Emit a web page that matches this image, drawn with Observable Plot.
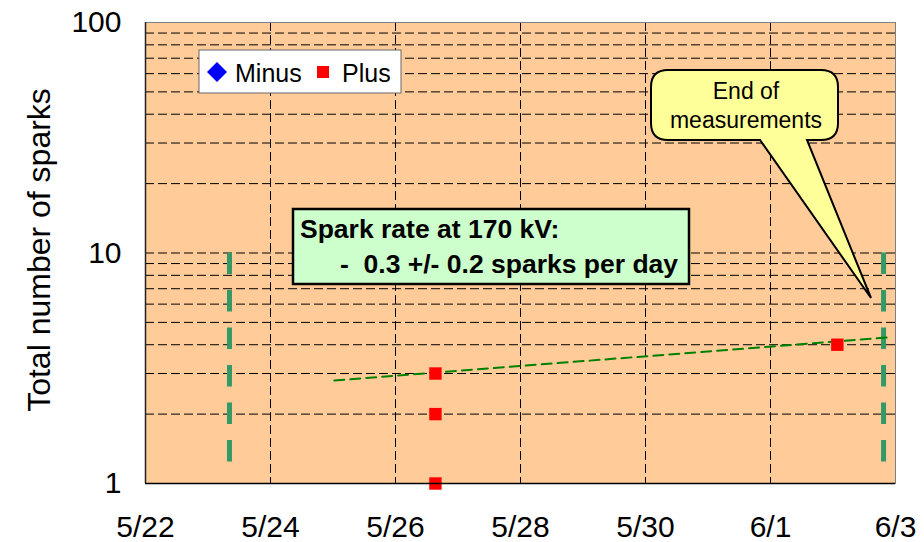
<!DOCTYPE html>
<html><head><meta charset="utf-8">
<script src="https://cdn.jsdelivr.net/npm/d3@7"></script>
<script src="https://cdn.jsdelivr.net/npm/@observablehq/plot@0.6"></script>
<style>
body{margin:0;background:#fff;}
svg{display:block;font-family:"Liberation Sans",Arial,sans-serif;}
</style>
</head><body><div id="chart"></div>
<script>
// ---- data ----
const xTickDates = ["2008-05-22","2008-05-24","2008-05-26","2008-05-28","2008-05-30","2008-06-01","2008-06-03"];
const xTickLabels = ["5/22","5/24","5/26","5/28","5/30","6/1","6/3"];
const yTicks = [1, 10, 100];
const yGrid = [2,3,4,5,6,7,8,9,10,20,30,40,50,60,70,80,90];
const xGrid = ["2008-05-24","2008-05-26","2008-05-28","2008-05-30","2008-06-01"];

const plusTimes = ["2008-05-26T15:20Z","2008-05-26T15:20Z","2008-05-26T15:20Z","2008-06-02T01:40Z"];
const plusCounts = [1, 2, 3, 4];
const minusTimes = [];
const minusCounts = [];

const trendTimes = ["2008-05-25T00:30Z","2008-06-02T21:00Z"];
const trendCounts = [2.8, 4.3];

const markerTimes = ["2008-05-23T08:15Z","2008-06-02T19:25Z"];
const markerTop = [10, 10];
const markerBottom = [1.23, 1.23];

// ---- build tables ----
const P = s => new Date(s.length === 10 ? s + "T00:00Z" : s);
const plus = plusTimes.map((t,i)=>({t:P(t), n:plusCounts[i]}));
const minus = minusTimes.map((t,i)=>({t:P(t), n:minusCounts[i]}));
const trend = trendTimes.map((t,i)=>({t:P(t), n:trendCounts[i]}));
const markers = markerTimes.map((t,i)=>({t:P(t), top:markerTop[i], bottom:markerBottom[i]}));
const labelMap = new Map(xTickDates.map((d,i)=>[+P(d), xTickLabels[i]]));

const chart = Plot.plot({
  width: 924, height: 542,
  marginLeft: 145, marginRight: 29, marginTop: 22, marginBottom: 59,
  style: {fontFamily: '"Liberation Sans", Arial, sans-serif', color: "#000", background: "transparent", overflow: "visible"},
  x: {type: "utc", domain: [P(xTickDates[0]), P(xTickDates[xTickDates.length-1])]},
  y: {type: "log", domain: [1, 100]},
  marks: [
    Plot.frame({fill: "#FFCC99", stroke: null}),
    Plot.ruleY(yGrid, {stroke: "#000", strokeWidth: 1, strokeDasharray: "9,4"}),
    Plot.ruleX(xGrid.map(P), {stroke: "#000", strokeWidth: 1, strokeDasharray: "9,4"}),
    Plot.ruleX(markers, {x: "t", y1: "top", y2: "bottom", stroke: "#339966", strokeWidth: 5, strokeDasharray: "21.5,16"}),
    Plot.line(trend, {x: "t", y: "n", stroke: "#008000", strokeWidth: 2, strokeDasharray: "10,6"}),
    Plot.dot(minus, {x: "t", y: "n", symbol: "diamond", fill: "blue", r: 7}),
    Plot.dot(plus, {x: "t", y: "n", symbol: "square", fill: "#FF0000", r: 7}),
    Plot.axisX({ticks: xTickDates.map(P), tickFormat: d => labelMap.get(+d), tickSize: 0, tickPadding: 32, fontSize: 30, label: null}),
    Plot.axisY({ticks: yTicks, tickFormat: d => String(d), tickSize: 0, tickPadding: 24, fontSize: 30, label: null}),
    Plot.frame({stroke: "#808080", strokeWidth: 1}),
    Plot.ruleX([P(xTickDates[0])], {stroke: "#222", strokeWidth: 1.5}),
    Plot.ruleY([1], {stroke: "#000", strokeWidth: 1.5})
  ]
});
document.getElementById("chart").appendChild(chart);

// ---- annotations ----
const svg = d3.select(chart);
const g = svg.append("g").attr("text-anchor", "start").attr("fill", "#000");

// y-axis title
g.append("text").attr("transform", "translate(50,250) rotate(-90)")
  .attr("text-anchor", "middle").attr("font-size", 32)
  .text("Total number of sparks");

// legend
g.append("rect").attr("x", 199).attr("y", 50).attr("width", 202).attr("height", 43)
  .attr("fill", "#fff").attr("stroke", "#666").attr("stroke-width", 1);
g.append("path").attr("d", "M217,62 L227,72 L217,82 L207,72 Z").attr("fill", "blue");
g.append("text").attr("x", 235).attr("y", 82).attr("font-size", 25).text("Minus");
g.append("rect").attr("x", 317).attr("y", 66).attr("width", 12).attr("height", 12).attr("fill", "#FF0000");
g.append("text").attr("x", 342).attr("y", 82).attr("font-size", 25).text("Plus");

// spark rate box
g.append("rect").attr("x", 293).attr("y", 209).attr("width", 396).attr("height", 75)
  .attr("fill", "#CCFFCC").attr("stroke", "#000").attr("stroke-width", 2.5);
g.append("text").attr("x", 300).attr("y", 238).attr("font-size", 26.5).attr("font-weight", "bold")
  .text("Spark rate at 170 kV:");
g.append("text").attr("x", 340).attr("y", 273).attr("font-size", 26.5).attr("font-weight", "bold")
  .style("white-space", "pre").text("-  0.3 +/- 0.2 sparks per day");

// callout
const r = 17, L = 651, R = 838, T = 70, B = 140;
g.append("path").attr("d",
  `M${L+r},${T} H${R-r} Q${R},${T} ${R},${T+r} V${B-r} Q${R},${B} ${R-r},${B} H807 L871,298 L760,${B} H${L+r} Q${L},${B} ${L},${B-r} V${T+r} Q${L},${T} ${L+r},${T} Z`)
  .attr("fill", "#FFFF99").attr("stroke", "#000").attr("stroke-width", 2);
g.append("text").attr("x", 746).attr("y", 99).attr("text-anchor", "middle").attr("font-size", 23).text("End of");
g.append("text").attr("x", 746).attr("y", 128).attr("text-anchor", "middle").attr("font-size", 23).text("measurements");
</script>
</body></html>
